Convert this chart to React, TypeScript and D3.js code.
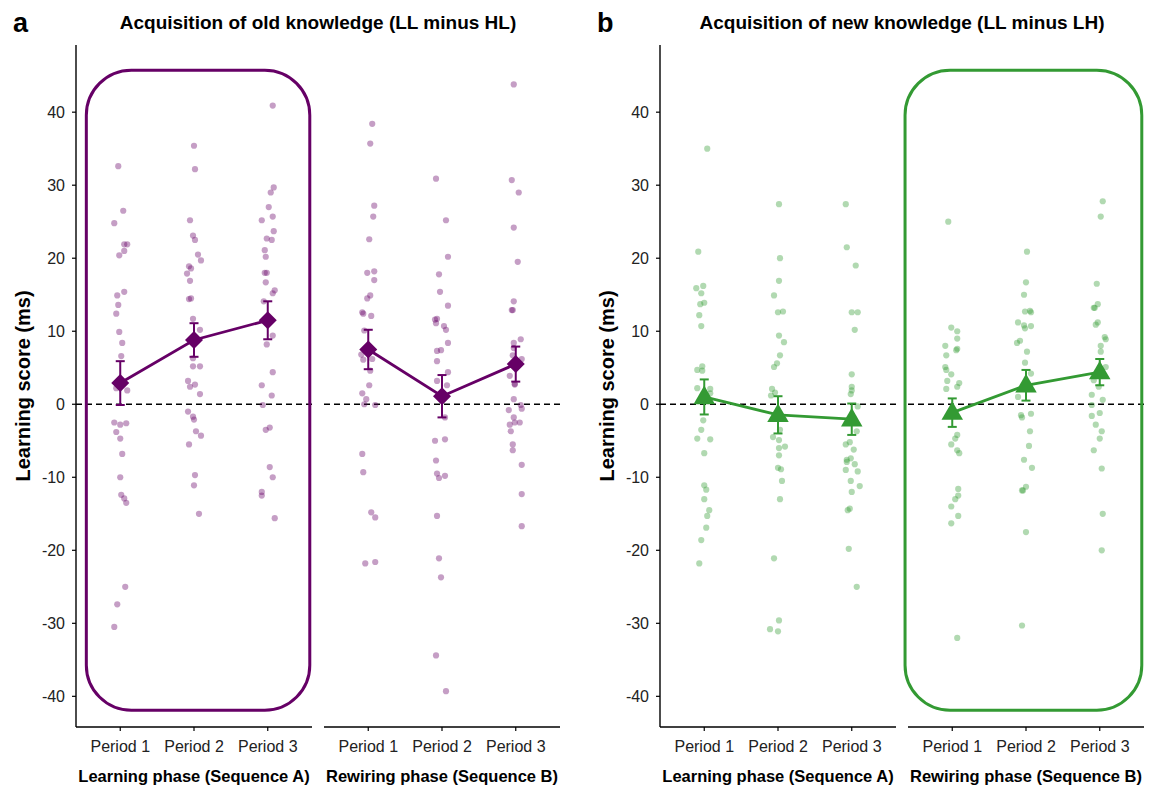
import React from "react";
import * as d3 from "d3";

// ---------- DATA ----------
const periods = ["Period 1", "Period 2", "Period 3"];
const phases = ["Learning phase (Sequence A)", "Rewiring phase (Sequence B)"];
const panelTitles = ["Acquisition of old knowledge (LL minus HL)", "Acquisition of new knowledge (LL minus LH)"];
const panelLetters = ["a", "b"];
const yTicks = [-40, -30, -20, -10, 0, 10, 20, 30, 40];

// individual scores: [value, horizontal jitter (px at a 74px category step)]
const aLearnP1 = [[32.6,-2],[26.5,3],[24.8,-6],[21.9,4],[21.9,7],[21.0,4],[20.4,-1],[15.4,4],[14.9,-3],[13.6,-2],[12.4,-4],[9.9,-1],[8.4,2],[6.6,1],[2.2,-4],[1.9,7],[-2.5,-6],[-2.8,0],[-2.6,6],[-3.8,-4],[-4.7,0],[-6.8,2],[-10.0,0],[-12.4,1],[-12.9,4],[-13.5,6],[-25.0,5],[-27.4,-3],[-30.5,-6]];
const aLearnP2 = [[35.4,0],[32.2,1],[25.2,-4],[23.1,-1],[22.5,1],[20.5,4],[19.7,7],[18.9,-5],[18.6,-3],[17.9,-7],[16.9,-4],[14.4,-5],[14.5,-3],[11.7,-1],[10.2,6],[6.3,-1],[5.2,-1],[5.2,6],[3.2,-6],[2.4,-4],[2.7,1],[1.4,6],[-1.0,-6],[-1.7,-1],[-2.1,0],[-3.7,2],[-4.3,7],[-5.5,-5],[-9.7,1],[-11.1,0],[-15.0,5]];
const aLearnP3 = [[40.9,5],[29.7,6],[29.0,3],[27.0,1],[25.2,-6],[25.7,5],[23.7,6],[22.7,-1],[22.5,4],[21.1,-3],[20.2,-2],[18.0,-3],[18.0,-1],[16.7,-2],[15.6,7],[15.2,5],[14.1,-4],[9.4,5],[8.2,-1],[4.4,5],[2.6,-6],[1.2,4],[-0.1,-5],[-3.5,-2],[-3.2,2],[-8.6,2],[-10.0,5],[-12.0,-6],[-12.5,-6],[-15.6,7]];
const aRewP1 = [[38.4,4],[35.7,2],[27.2,6],[25.7,5],[22.6,1],[18.0,-1],[18.2,6],[17.0,6],[14.5,-1],[14.9,2],[12.6,-6],[12.4,-5],[12.1,3],[10.1,-4],[6.8,-7],[6.1,-5],[6.2,4],[4.6,2],[2.6,1],[1.5,-6],[0.7,-2],[0.0,-4],[-0.1,7],[-6.8,-6],[-9.3,-5],[-14.8,3],[-15.5,7],[-21.8,-3],[-21.6,7]];
const aRewP2 = [[30.9,-6],[25.2,4],[20.2,6],[17.8,-3],[15.4,-2],[13.5,6],[11.7,-5],[11.1,-6],[11.6,-7],[10.7,2],[10.2,4],[8.4,6],[7.3,-5],[7.4,-1],[5.9,-5],[4.4,6],[3.2,-5],[2.6,5],[-1.8,3],[-5.0,-7],[-4.8,3],[-7.7,-6],[-9.5,-5],[-10.1,-3],[-9.8,3],[-15.3,-5],[-21.1,-3],[-23.7,-1],[-34.4,-6],[-39.3,4]];
const aRewP3 = [[43.8,-2],[30.7,-4],[29.0,3],[24.2,-2],[19.5,2],[14.1,-2],[12.9,-4],[12.9,-3],[8.9,5],[8.4,-2],[7.7,-2],[6.7,-3],[6.2,6],[3.9,-6],[2.8,-1],[2.7,-1],[0.7,-2],[-0.1,5],[-0.6,6],[-0.8,-7],[-1.8,-2],[-2.8,-6],[-3.7,-5],[-2.5,4],[-2.5,-1],[-5.5,-3],[-6.3,-3],[-8.3,6],[-12.3,6],[-16.7,6]];
const bLearnP1 = [[35.0,3],[20.9,-6],[15.9,-8],[16.2,-1],[15.2,-3],[13.7,-4],[13.9,0],[12.2,-5],[10.7,-3],[5.2,-2],[4.7,-7],[4.6,-2],[2.2,-7],[2.1,6],[1.5,6],[-2.2,-1],[-3.5,-3],[-4.7,-7],[-4.8,6],[-6.7,0],[-11.1,0],[-11.7,2],[-13.0,0],[-14.5,5],[-15.3,3],[-16.9,2],[-18.6,-3],[-21.8,-5]];
const bLearnP2 = [[27.4,1],[20.0,2],[16.9,1],[14.9,-4],[12.6,0],[12.7,5],[9.4,1],[8.5,6],[6.7,2],[5.6,-1],[5.1,-4],[2.1,-6],[1.6,-3],[1.2,-7],[-3.5,2],[-4.5,-5],[-4.9,1],[-6.0,1],[-5.8,7],[-7.0,1],[-8.7,0],[-8.9,3],[-10.5,4],[-13.0,2],[-21.1,-4],[-29.6,1],[-30.8,-8],[-31.1,0]];
const bLearnP3 = [[27.4,-6],[21.5,-5],[19.0,4],[12.6,0],[12.6,6],[10.2,3],[4.1,0],[2.4,0],[1.9,0],[1.4,-1],[-0.3,6],[-3.7,5],[-5.5,-6],[-5.2,-2],[-6.2,2],[-7.6,-5],[-7.4,-1],[-7.9,-5],[-8.2,3],[-9.0,-6],[-9.2,6],[-10.5,-1],[-11.2,8],[-12.0,0],[-14.5,-4],[-14.3,-2],[-19.8,-3],[-25.0,5]];
const bRewP1 = [[25.0,-4],[10.5,-1],[10.0,5],[9.0,5],[8.0,-7],[7.6,5],[7.4,4],[6.7,-6],[5.1,-7],[4.7,-6],[4.1,-1],[3.2,-5],[2.9,7],[2.4,5],[2.1,-6],[-4.2,5],[-4.7,3],[-5.5,-1],[-6.3,5],[-6.7,7],[-11.6,6],[-12.5,6],[-13.0,3],[-14.0,-1],[-15.3,6],[-16.3,-1],[-32.0,5]];
const bRewP2 = [[20.9,1],[16.7,0],[15.0,-2],[12.7,-1],[12.8,4],[12.6,5],[11.2,-8],[10.8,-2],[10.4,-1],[10.7,5],[8.7,-6],[8.4,-9],[7.2,1],[5.7,-1],[4.2,5],[1.0,-8],[-1.5,-5],[-1.8,-4],[-1.3,5],[-3.7,4],[-5.7,3],[-7.6,-2],[-8.7,6],[-11.3,0],[-11.8,-4],[-11.8,-3],[-17.5,0],[-30.3,-4]];
const bRewP3 = [[27.8,3],[25.7,1],[16.5,-3],[13.7,-2],[13.2,-6],[13.2,-5],[11.2,-2],[10.9,-4],[9.2,5],[8.9,6],[8.0,1],[7.2,1],[5.1,6],[3.3,-6],[2.4,-1],[1.3,-8],[0.6,3],[-0.1,-8],[-1.2,0],[-1.6,-8],[-2.8,-4],[-3.7,2],[-4.7,0],[-6.3,-6],[-8.8,2],[-15.0,3],[-20.0,2]];

// group means and standard errors
const aLearnMeans = [2.9, 8.8, 11.5];
const aLearnSE = [3.0, 2.3, 2.6];
const aRewMeans = [7.5, 1.1, 5.5];
const aRewSE = [2.7, 2.9, 2.4];
const bLearnMeans = [1.0, -1.45, -2.05];
const bLearnSE = [2.4, 2.55, 2.15];
const bRewMeans = [-1.15, 2.6, 4.4];
const bRewSE = [1.95, 2.1, 1.8];

// ---------- LAYOUT ----------
const W = 1157, H = 787;
const yTop = 45, yBottom = 727;
const panelX = [76, 660];
const facetW = 236, facetGap = 12;
const purple = "#660066";
const green = "#339a33";
const FONT = "'Liberation Sans', Arial, Helvetica, sans-serif";

const yScale = d3.scaleLinear().domain([-44.2, 49.2]).range([yBottom, yTop]);

const panels = [
  {
    color: purple, shape: "diamond",
    facets: [
      { points: [aLearnP1, aLearnP2, aLearnP3], means: aLearnMeans, se: aLearnSE },
      { points: [aRewP1, aRewP2, aRewP3], means: aRewMeans, se: aRewSE },
    ],
    highlight: { facet: 0, left: -0.46, right: 0.57 },
  },
  {
    color: green, shape: "triangle",
    facets: [
      { points: [bLearnP1, bLearnP2, bLearnP3], means: bLearnMeans, se: bLearnSE },
      { points: [bRewP1, bRewP2, bRewP3], means: bRewMeans, se: bRewSE },
    ],
    highlight: { facet: 1, left: -0.64, right: 0.57 },
  },
];
const highlightY = [-41.9, 45.75];

function Marker({ shape, x, y, color }: any) {
  if (shape === "diamond") {
    const r = 9;
    return <path d={`M${x},${y - r}L${x + r},${y}L${x},${y + r}L${x - r},${y}Z`} fill={color} />;
  }
  const s = d3.symbol().type(d3.symbolTriangle).size(200)();
  return <path d={s as string} transform={`translate(${x},${y + 1})`} fill={color} />;
}

export default function App() {
  return (
    <svg width={W} height={H} style={{ display: "block", background: "#fff", position: "absolute", left: 0, top: 0 }} fontFamily={FONT}>
      {panels.map((p, pi) => {
        const px = panelX[pi];
        const plotW = facetW * 2 + facetGap;
        return (
          <g key={pi}>
            <text x={pi === 0 ? 13 : 597} y={32} fontSize={27} fontWeight="bold">{panelLetters[pi]}</text>
            <text x={px + plotW / 2} y={29} fontSize={19} fontWeight="bold" textAnchor="middle">{panelTitles[pi]}</text>
            <text transform={`translate(${px - 46},${(yTop + yBottom) / 2}) rotate(-90)`} fontSize={20} fontWeight="bold" textAnchor="middle">Learning score (ms)</text>
            {/* y axis */}
            <line x1={px} x2={px} y1={yTop} y2={yBottom} stroke="#000" strokeWidth={1.4} />
            {yTicks.map((t) => (
              <g key={t}>
                <line x1={px - 4} x2={px} y1={yScale(t)} y2={yScale(t)} stroke="#000" strokeWidth={1.2} />
                <text x={px - 11} y={yScale(t) + 5.5} fontSize={16} textAnchor="end" fill="#222">{t}</text>
              </g>
            ))}
            {p.facets.map((f, fi) => {
              const fx = px + fi * (facetW + facetGap);
              const xs = d3.scalePoint<string>().domain(periods).range([fx, fx + facetW]).padding(0.6);
              const step = xs.step();
              const line = d3.line<number>().x((_, i) => xs(periods[i])!).y((d) => yScale(d));
              return (
                <g key={fi}>
                  {/* x axis */}
                  <line x1={fx} x2={fx + facetW} y1={yBottom} y2={yBottom} stroke="#000" strokeWidth={1.4} />
                  {periods.map((c) => (
                    <g key={c}>
                      <line x1={xs(c)} x2={xs(c)} y1={yBottom} y2={yBottom + 4} stroke="#000" strokeWidth={1.2} />
                      <text x={xs(c)} y={yBottom + 25} fontSize={16} textAnchor="middle" fill="#222">{c}</text>
                    </g>
                  ))}
                  <text x={fx + facetW / 2} y={yBottom + 55} fontSize={16.5} fontWeight="bold" textAnchor="middle">{phases[fi]}</text>
                  {/* zero line */}
                  <line x1={fx} x2={fx + facetW} y1={yScale(0)} y2={yScale(0)} stroke="#000" strokeWidth={1.3} strokeDasharray="6,4" />
                  {/* points */}
                  {f.points.map((pts, ci) =>
                    pts.map((d, k) => (
                      <circle key={`${ci}-${k}`} cx={xs(periods[ci])! + (d[1] / 74) * step} cy={yScale(d[0])} r={3.1} fill={p.color} fillOpacity={0.38} />
                    ))
                  )}
                  {/* mean line */}
                  <path d={line(f.means) as string} fill="none" stroke={p.color} strokeWidth={2.8} />
                  {f.means.map((m, ci) => {
                    const x = xs(periods[ci])!;
                    const y1 = yScale(m + f.se[ci]);
                    const y2 = yScale(m - f.se[ci]);
                    return (
                      <g key={ci}>
                        <line x1={x} x2={x} y1={y1} y2={y2} stroke={p.color} strokeWidth={2} />
                        <line x1={x - 4.5} x2={x + 4.5} y1={y1} y2={y1} stroke={p.color} strokeWidth={2} />
                        <line x1={x - 4.5} x2={x + 4.5} y1={y2} y2={y2} stroke={p.color} strokeWidth={2} />
                        <Marker shape={p.shape} x={x} y={yScale(m)} color={p.color} />
                      </g>
                    );
                  })}
                  {p.highlight.facet === fi && (
                    <rect
                      x={xs(periods[0])! + p.highlight.left * step}
                      y={yScale(highlightY[1])}
                      width={xs(periods[2])! - xs(periods[0])! + (p.highlight.right - p.highlight.left) * step}
                      height={yScale(highlightY[0]) - yScale(highlightY[1])}
                      rx={45}
                      ry={45}
                      fill="none"
                      stroke={p.color}
                      strokeWidth={3}
                    />
                  )}
                </g>
              );
            })}
          </g>
        );
      })}
    </svg>
  );
}
